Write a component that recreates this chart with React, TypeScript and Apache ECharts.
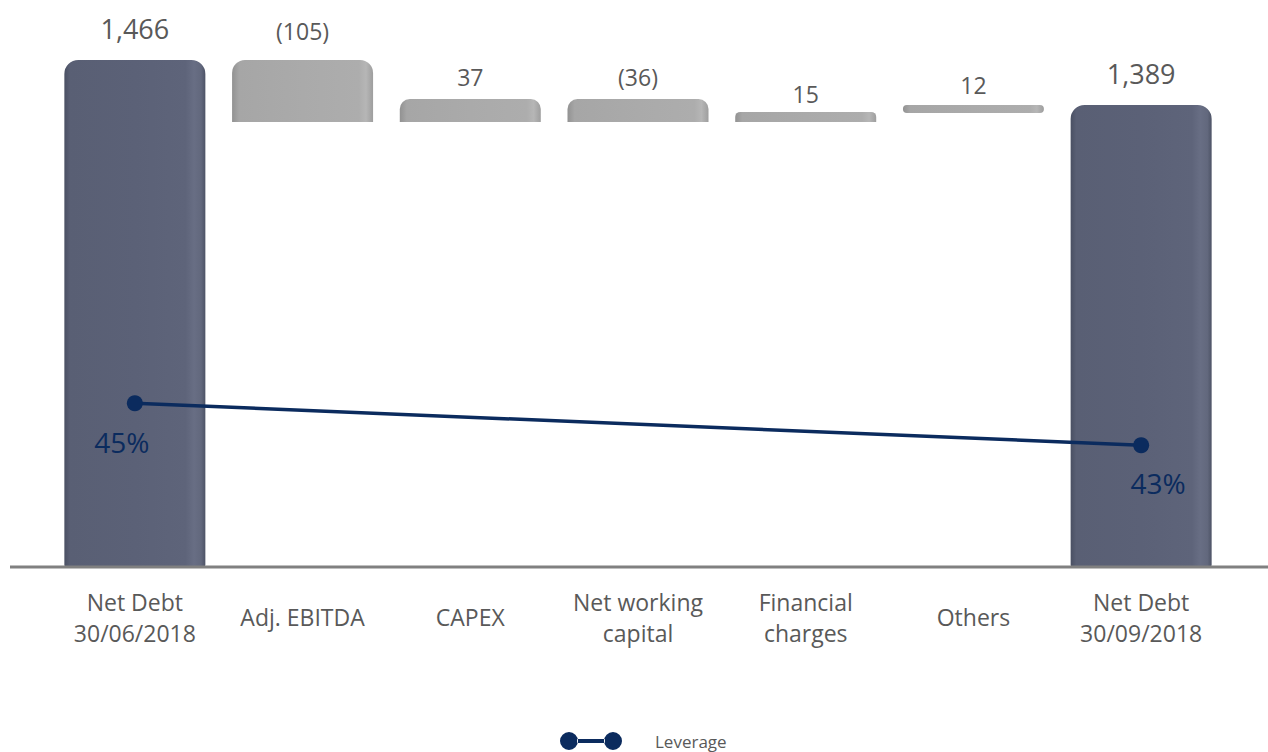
import React, { useEffect, useRef } from "react";
import * as echarts from "echarts";

// Categories and labels
const categories = [
  "Net Debt\n30/06/2018",
  "Adj. EBITDA",
  "CAPEX",
  "Net working\ncapital",
  "Financial\ncharges",
  "Others",
  "Net Debt\n30/09/2018",
];
// Value labels printed above bars (€m)
const valueLabels = ["1,466", "(105)", "37", "(36)", "15", "12", "1,389"];
// Bar extents as drawn in the picture (stylised, axis units)
const barBottoms = [0, 1287, 1287, 1287, 1287, 1313, 0];
const barTops = [1466, 1466, 1353, 1353, 1316, 1336, 1336];
// Leverage (%)
const leverage = [45, null, null, null, null, null, 43];

const TEXT = "#595959";
const NAVY = "#0b2b5e";

const darkGrad = {
  type: "linear", x: 0, y: 0, x2: 1, y2: 0,
  colorStops: [
    { offset: 0, color: "#4a5063" },
    { offset: 0.04, color: "#595f74" },
    { offset: 0.5, color: "#5b6177" },
    { offset: 0.86, color: "#5e647a" },
    { offset: 0.92, color: "#686e84" },
    { offset: 0.97, color: "#62687d" },
    { offset: 1, color: "#4d5366" },
  ],
};
const grayGrad = {
  type: "linear", x: 0, y: 0, x2: 1, y2: 0,
  colorStops: [
    { offset: 0, color: "#929292" },
    { offset: 0.05, color: "#a6a6a6" },
    { offset: 0.5, color: "#aaaaaa" },
    { offset: 0.9, color: "#adadad" },
    { offset: 0.95, color: "#b6b6b6" },
    { offset: 1, color: "#9e9e9e" },
  ],
};

const radii = [
  [14, 14, 2, 2],
  [13, 13, 0, 0],
  [10, 10, 0, 0],
  [10, 10, 0, 0],
  [5, 5, 0, 0],
  [4, 4, 4, 4],
  [14, 14, 2, 2],
];
const labelDist = [18, 18, 11, 11, 6, 8, 18];
const labelSize = [27, 23, 23, 23, 23, 23, 27];

export default function App() {
  const ref = useRef<HTMLDivElement>(null);
  useEffect(() => {
    document.body.style.margin = "0";
    const chart = echarts.init(ref.current!, undefined, { renderer: "svg" });
    const dark = (i: number) => i === 0 || i === categories.length - 1;
    chart.setOption({
      animation: false,
      textStyle: { fontFamily: "Open Sans" },
      grid: { left: 51, right: 43, top: 60, bottom: 185 },
      legend: {
        left: 555,
        top: 727,
        itemWidth: 62,
        itemHeight: 18,
        data: [
          {
            name: "Leverage",
            icon:
              "path://M0,9 a9,9 0 1,0 18,0 a9,9 0 1,0 -18,0 Z M44,9 a9,9 0 1,0 18,0 a9,9 0 1,0 -18,0 Z M17,7 L45,7 L45,11 L17,11 Z",
          },
        ],
        textStyle: { color: TEXT, fontSize: 17, fontFamily: "Open Sans", padding: [0, 0, 0, 28] },
      },
      xAxis: {
        type: "category",
        data: categories,
        axisLine: { show: false },
        axisTick: { show: false },
        axisLabel: {
          color: TEXT,
          fontSize: 23,
          lineHeight: 31,
          margin: 50,
          verticalAlign: "middle",
          interval: 0,
          fontFamily: "Open Sans",
        },
      },
      yAxis: [
        { type: "value", min: 0, max: 1466, show: false, splitLine: { show: false } },
        { type: "value", min: 37.2, max: 61.35, show: false, splitLine: { show: false } },
      ],
      graphic: [
        {
          type: "line",
          shape: { x1: 10, y1: 567, x2: 1268, y2: 567 },
          style: { stroke: "#808080", lineWidth: 3 },
          z: 100,
        },
      ],
      series: [
        {
          name: "base",
          type: "bar",
          stack: "w",
          barWidth: 141,
          silent: true,
          itemStyle: { color: "transparent" },
          data: barBottoms,
        },
        {
          name: "Net debt",
          type: "bar",
          stack: "w",
          barWidth: 141,
          data: barTops.map((t, i) => ({
            value: t - barBottoms[i],
            itemStyle: {
              color: dark(i) ? darkGrad : grayGrad,
              borderRadius: radii[i],
            },
            label: {
              show: true,
              position: "top",
              distance: labelDist[i],
              fontSize: labelSize[i],
              color: TEXT,
              fontFamily: "Open Sans",
              formatter: () => valueLabels[i],
            },
          })),
        },
        {
          name: "Leverage",
          type: "line",
          yAxisIndex: 1,
          connectNulls: true,
          symbol: "circle",
          symbolSize: 16,
          lineStyle: { color: NAVY, width: 3.5 },
          itemStyle: { color: NAVY },
          z: 10,
          data: leverage.map((v, i) =>
            v === null
              ? null
              : {
                  value: v,
                  label: {
                    show: true,
                    position: "inside",
                    offset: i === 0 ? [-13, 39] : [17, 38],
                    formatter: "{c}%",
                    fontSize: 28,
                    color: NAVY,
                    fontFamily: "Open Sans",
                  },
                }
          ),
        },
      ],
    });
    return () => chart.dispose();
  }, []);
  return <div ref={ref} style={{ width: 1268, height: 752 }} />;
}
